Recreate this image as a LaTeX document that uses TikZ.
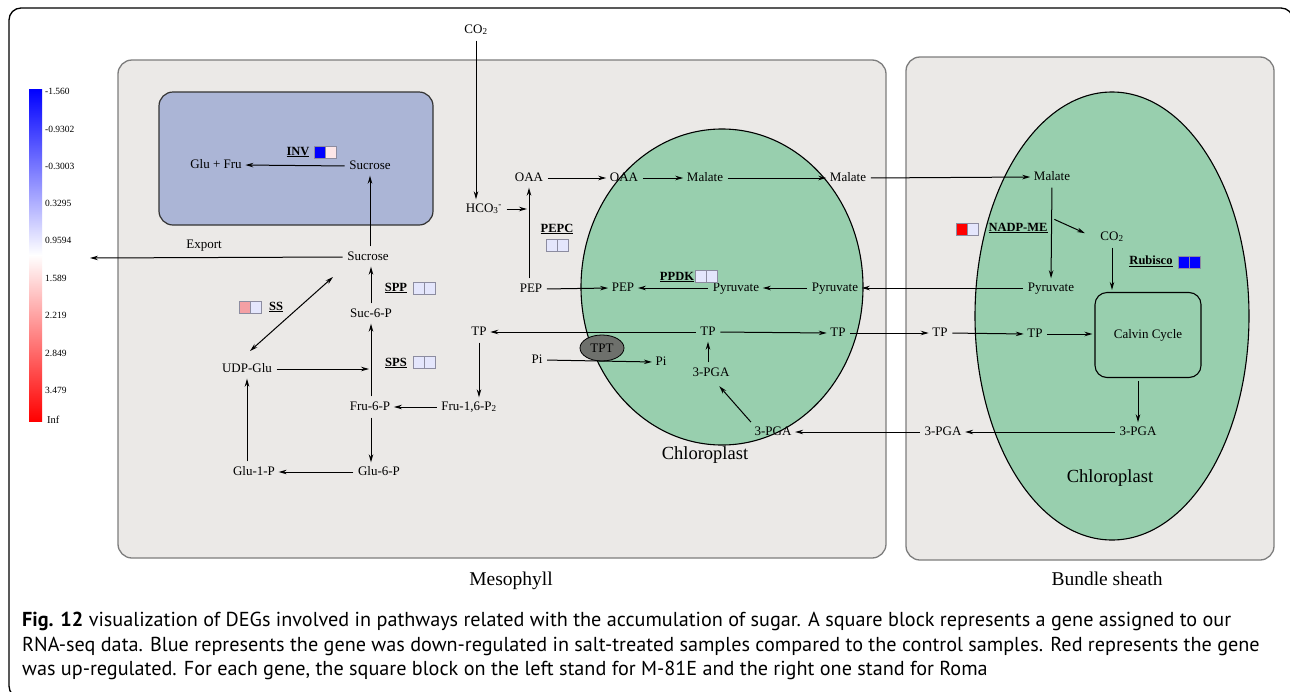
\documentclass[tikz,border=0pt]{standalone}
\usepackage{fontspec}
\setmainfont{Liberation Serif}
\newfontfamily\capfont{PT Sans}
\usetikzlibrary{arrows.meta,calc,shapes.geometric}
\definecolor{cellgray}{RGB}{235,233,231}
\definecolor{cellline}{RGB}{125,125,125}
\definecolor{chlgreen}{RGB}{152,207,174}
\definecolor{vacblue}{RGB}{171,181,214}
\definecolor{lav}{RGB}{228,230,252}
\definecolor{palepink}{RGB}{253,230,232}
\definecolor{midred}{RGB}{244,160,164}
\definecolor{genered}{RGB}{255,0,0}
\definecolor{geneblue}{RGB}{0,0,255}
\definecolor{boxline}{RGB}{140,140,160}
\definecolor{tptgray}{RGB}{110,112,108}
\newcommand\genepair[4]{%
  \filldraw[draw=boxline,line width=0.7pt,fill=#3] (#1-11,#2-6) rectangle (#1,#2+6);
  \filldraw[draw=boxline,line width=0.7pt,fill=#4] (#1,#2-6) rectangle (#1+11,#2+6);}
\begin{document}
\begin{tikzpicture}[x=1pt,y=-1pt,
  lbl/.style={font=\fontsize{13}{15}\selectfont, inner sep=1.5pt, text height=9pt, text depth=3pt},
  gene/.style={font=\bfseries\fontsize{12.5}{14}\selectfont, inner sep=0pt},
  big/.style={font=\fontsize{18.5}{21}\selectfont, inner sep=0pt},
  bigger/.style={font=\fontsize{19.5}{22}\selectfont, inner sep=0pt},
  tick/.style={font=\fontsize{9.5}{10}\selectfont, inner sep=0pt, anchor=west},
  arr/.style={-{Stealth[length=8pt,width=4.5pt]}, line width=1pt, shorten >=2pt, shorten <=3pt},
  dblarr/.style={{Stealth[length=8pt,width=4.5pt]}-{Stealth[length=8pt,width=4.5pt]}, line width=1pt},
  cell/.style={fill=cellgray, draw=cellline, line width=1.3pt, rounded corners=14pt},
  chl/.style={fill=chlgreen, draw=black, line width=1.1pt},
  caption/.style={font=\capfont\fontsize{20.2}{22}\selectfont, inner sep=0pt, anchor=base west}]
\useasboundingbox (0,0) rectangle (1290,691);
\fill[white] (0,0) rectangle (1290,691);
% outer frame
\draw[line width=1.3pt, rounded corners=12pt] (9,8) rectangle (1293,698);
% colour bar
\shade[top color=geneblue, bottom color=white] (29,89) rectangle (42,255);
\shade[top color=white, bottom color=genered] (29,255) rectangle (42,421);
\node[tick] (t1) at (45,91) {-1.560};
\node[tick] (t2) at (45,129) {-0.9302};
\node[tick] (t3) at (45,166) {-0.3003};
\node[tick] (t4) at (45,203) {0.3295};
\node[tick] (t5) at (45,240) {0.9594};
\node[tick] (t6) at (45,278) {1.589};
\node[tick] (t7) at (45,315) {2.219};
\node[tick] (t8) at (45,353) {2.849};
\node[tick] (t9) at (45,390) {3.479};
\node[tick, font=\fontsize{10.5}{11}\selectfont] (t10) at (47,420) {Inf};
% compartments
\draw[cell] (118,60) rectangle (886,558);
\draw[cell] (906,57) rectangle (1274,560);
\draw[fill=vacblue, draw=black!80, line width=1.2pt, rounded corners=14pt] (159,92) rectangle (433,225);
\draw[chl] (722,287) ellipse [x radius=141, y radius=158];
\draw[chl] (1112,316) ellipse [x radius=137, y radius=224];
\node[draw=black, line width=1.1pt, fill=chlgreen, rounded corners=12pt, minimum width=106pt, minimum height=85pt, font=\fontsize{13}{15}\selectfont] (calvin) at (1148,335) {Calvin Cycle};
\node[ellipse, draw=black, line width=0.8pt, fill=tptgray, minimum width=44pt, minimum height=26pt, inner sep=0pt, font=\fontsize{13}{15}\selectfont] (tpt) at (602,348) {TPT};
% compartment names
\node[big] (chl1) at (705,455) {Chloroplast};
\node[big] (chl2) at (1110,478) {Chloroplast};
\node[bigger] (meso) at (511,581) {Mesophyll};
\node[bigger] (bs) at (1107,579) {Bundle sheath};
% metabolites
\node[lbl] (co2a) at (476,30) {CO\textsubscript{2}};
\node[lbl] (hco) at (484,209) {HCO\textsubscript{3}\textsuperscript{-}};
\node[lbl] (oaa1) at (529,178) {OAA};
\node[lbl] (pep1) at (531,289) {PEP};
\node[lbl] (oaa2) at (624,178) {OAA};
\node[lbl] (pep2) at (623,288) {PEP};
\node[lbl] (mal1) at (705,178) {Malate};
\node[lbl] (mal2) at (848,178) {Malate};
\node[lbl] (mal3) at (1052,177) {Malate};
\node[lbl] (pyr1) at (736,288) {Pyruvate};
\node[lbl] (pyr2) at (835,288) {Pyruvate};
\node[lbl] (pyr3) at (1051,288) {Pyruvate};
\node[lbl] (co2b) at (1112,237) {CO\textsubscript{2}};
\node[lbl] (tp1) at (479,332) {TP};
\node[lbl] (tp2) at (708,332) {TP};
\node[lbl] (tp3) at (838,333) {TP};
\node[lbl] (tp4) at (940,333) {TP};
\node[lbl] (tp5) at (1035,334) {TP};
\node[lbl] (pi1) at (537,360) {Pi};
\node[lbl] (pi2) at (661,362) {Pi};
\node[lbl] (pga1) at (711,373) {3-PGA};
\node[lbl] (pga2) at (773,432) {3-PGA};
\node[lbl] (pga3) at (943,432) {3-PGA};
\node[lbl] (pga4) at (1138,432) {3-PGA};
\node[lbl] (fru16) at (469,407) {Fru-1,6-P\textsubscript{2}};
\node[lbl] (fru6) at (370,407) {Fru-6-P};
\node[lbl] (glu6) at (379,472) {Glu-6-P};
\node[lbl] (glu1) at (254,472) {Glu-1-P};
\node[lbl] (udp) at (247,369) {UDP-Glu};
\node[lbl] (suc6) at (371,314) {Suc-6-P};
\node[lbl] (sucl) at (368,257) {Sucrose};
\node[lbl] (sucu) at (370,166) {Sucrose};
\node[lbl] (glufru) at (216,165) {Glu + Fru};
\node[lbl] (export) at (204,245) {Export};
\coordinate (expend) at (88,258);
\coordinate (ssA) at (250,351);
\coordinate (ssB) at (333,277);
% genes
\node[gene] (inv) at (298,152) {\underline{INV}};
\genepair{325}{152}{geneblue}{palepink}
\node[gene] (pepc) at (557,229) {\underline{PEPC}};
\genepair{557}{245}{lav}{lav}
\node[gene] (ppdk) at (677,277) {\underline{PPDK}};
\genepair{706}{276}{lav}{lav}
\node[gene] (ss) at (276,307) {\underline{SS}};
\genepair{250}{307}{midred}{lav}
\node[gene] (spp) at (396,288) {\underline{SPP}};
\genepair{424}{288}{lav}{lav}
\node[gene] (sps) at (396,363) {\underline{SPS}};
\genepair{424}{362}{lav}{lav}
\node[gene] (nadp) at (1018,228) {\underline{NADP-ME}};
\genepair{967}{229}{genered}{lav}
\node[gene] (rub) at (1151,261) {\underline{Rubisco}};
\genepair{1189}{262}{geneblue}{geneblue}
% connectors
\draw[arr] (co2a.south) -- (co2a.south |- hco.north);
\draw[arr] (hco.east) -- (hco.east -| oaa1);
\draw[arr] (pep1.north -| oaa1) -- (oaa1.south);
\draw[arr] (oaa1.east) -- (oaa2.west);
\draw[arr] (oaa2.east) -- (mal1.west);
\draw[arr] (mal1.east) -- (mal2.west);
\draw[arr] (mal2.east) -- (mal3.west);
\draw[arr] (mal3.south) -- (pyr3.north);
\draw[arr] ($(mal3.south)!0.35!(pyr3.north)$) -- ($(co2b.west)+(-12,-3)$);
\draw[arr] (co2b.south) -- (co2b.south |- calvin.north);
\draw[arr] (pyr3.west) -- (pyr2.east);
\draw[arr] (pyr2.west) -- (pyr1.east);
\draw[arr] (pyr1.west) -- (pep2.east);
\draw[arr] (pep1.east) -- (pep2.west);
\draw[arr] (tp2.west) -- (tp1.east);
\draw[arr] (tp2.east) -- (tp3.west);
\draw[arr] (tp3.east) -- (tp4.west);
\draw[arr] (tp4.east) -- (tp5.west);
\draw[arr] (tp5.east) -- (tp5.east -| calvin.west);
\draw[arr] (pga1.north -| tp2) -- (tp2.south);
\draw[arr] (pga2.north west) -- ($(pga1.south)+(7,4)$);
\draw[arr] (pga4.west) -- (pga3.east);
\draw[arr] (pga3.west) -- (pga2.east);
\draw[arr] (calvin.south -| pga4) -- (pga4.north);
\draw[arr] (pi1.east) -- (pi2.west);
\draw[arr] (tp1.south) -- (tp1.south |- fru16.north);
\draw[arr] (fru16.west) -- (fru6.east);
\draw[arr] (fru6.south -| suc6) -- (glu6.north -| suc6);
\draw[arr] (glu6.west) -- (glu1.east);
\draw[arr] (glu1.north -| udp) -- (udp.south);
\draw[arr] (udp.east) -- (udp.east -| suc6);
\draw[arr] (fru6.north -| suc6) -- (suc6.south);
\draw[arr] (suc6.north) -- (suc6.north |- sucl.south);
\draw[arr] (sucl.north -| sucu) -- (sucu.south);
\draw[arr] (sucu.west) -- (glufru.east);
\draw[arr] (sucl.west) -- (expend);
\draw[dblarr] (ssA) -- (ssB);
% caption
\node[caption] (cap1) at (22,626) {\textbf{Fig. 12} visualization of DEGs involved in pathways related with the accumulation of sugar. A square block represents a gene assigned to our};
\node[caption] (cap2) at (22,651) {RNA-seq data. Blue represents the gene was down-regulated in salt-treated samples compared to the control samples. Red represents the gene};
\node[caption] (cap3) at (22,675) {was up-regulated. For each gene, the square block on the left stand for M-81E and the right one stand for Roma};
\end{tikzpicture}
\end{document}
